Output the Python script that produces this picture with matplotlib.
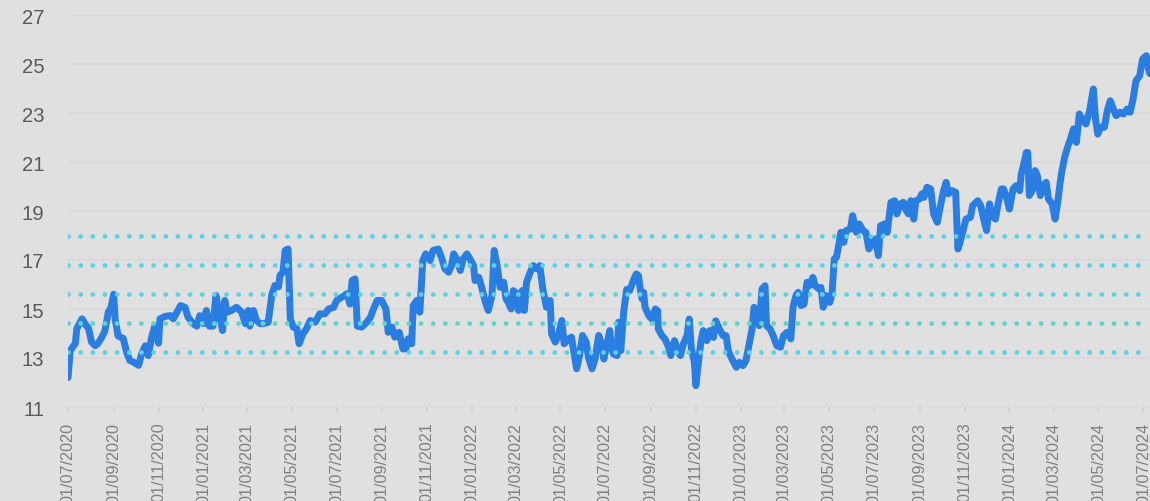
import pandas as pd
import matplotlib
matplotlib.use('Agg')
from matplotlib import pyplot as plt
import matplotlib.dates as mdates


start = pd.Timestamp('2020-07-01')

# days since 01/07/2020
days = [
    0, 3, 10, 12, 19, 23, 28, 32, 37, 41, 46, 50, 55, 58, 62, 64, 68, 75, 80, 84,
    89, 96, 100, 105, 109, 114, 118, 123, 125, 132, 139, 143, 148, 153, 159, 163,
    170, 175, 179, 184, 188, 192, 197, 201, 206, 210, 213, 216, 222, 229, 236, 241,
    245, 247, 252, 256, 261, 265, 272, 277, 281, 286, 288, 292, 295, 299, 302, 306,
    311, 314, 319, 324, 329, 336, 342, 349, 354, 361, 365, 372, 379, 383, 386, 390,
    393, 399, 406, 411, 415, 420, 426, 432, 435, 440, 444, 450, 455, 459, 462, 467,
    469, 474, 478, 482, 486, 492, 496, 503, 508, 512, 517, 521, 524, 528, 533, 537,
    542, 546, 551, 553, 558, 562, 567, 571, 576, 579, 583, 587, 592, 595, 598, 602,
    605, 610, 612, 617, 620, 623, 628, 632, 637, 641, 645, 650, 655, 657, 662, 666,
    671, 674, 680, 684, 688, 691, 695, 699, 704, 707, 712, 716, 721, 725, 728, 732,
    736, 738, 741, 746, 748, 751, 755, 759, 763, 768, 772, 775, 777, 780, 782, 784,
    789, 793, 798, 801, 802, 807, 811, 816, 819, 824, 828, 832, 836, 841, 844, 847,
    851, 853, 856, 860, 863, 868, 872, 877, 880, 885, 890, 894, 897, 902, 908, 912,
    917, 921, 925, 929, 932, 936, 939, 943, 947, 949, 954, 958, 963, 968, 972, 977,
    982, 985, 989, 992, 996, 1000, 1004, 1007, 1012, 1015, 1020, 1023, 1026, 1030,
    1035, 1038, 1041, 1044, 1047, 1050, 1054, 1057, 1063, 1066, 1071, 1075, 1080,
    1084, 1088, 1092, 1097, 1101, 1104, 1109, 1113, 1118, 1123, 1126, 1131, 1135,
    1139, 1142, 1145, 1149, 1152, 1157, 1160, 1163, 1167, 1172, 1176, 1181, 1184,
    1189, 1193, 1196, 1201, 1206, 1209, 1212, 1216, 1220, 1226, 1229, 1236, 1240,
    1244, 1248, 1252, 1255, 1260, 1264, 1268, 1271, 1275, 1279, 1284, 1288, 1293,
    1295, 1298, 1302, 1304, 1306, 1310, 1314, 1317, 1321, 1325, 1329, 1332, 1337,
    1341, 1344, 1348, 1350, 1354, 1358, 1362, 1366, 1370, 1374, 1379, 1383, 1388,
    1393, 1396, 1399, 1403, 1408, 1412, 1416, 1421, 1424, 1429, 1434, 1439, 1443,
    1447, 1451, 1456, 1460, 1465, 1468, 1470,
]
values = [
    12.2, 13.3, 13.6, 14.2, 14.6, 14.4, 14.2, 13.65, 13.5, 13.6, 13.85, 14.1, 14.9,
    15.0, 15.6, 14.6, 13.9, 13.8, 13.2, 12.9, 12.83, 12.7, 13.17, 13.5, 13.1, 13.9,
    14.3, 13.6, 14.6, 14.7, 14.73, 14.6, 14.87, 15.14, 15.07, 14.67, 14.4, 14.3,
    14.73, 14.4, 14.94, 14.3, 14.3, 15.55, 14.73, 14.12, 15.35, 14.87, 14.94, 15.07,
    14.87, 14.4, 14.94, 14.3, 14.94, 14.53, 14.4, 14.4, 14.46, 15.6, 15.96, 15.9,
    16.37, 16.5, 17.39, 17.45, 14.6, 14.26, 14.19, 13.58, 13.98, 14.19, 14.53, 14.46,
    14.8, 14.8, 15.0, 15.07, 15.35, 15.48, 15.62, 15.2, 16.16, 16.23, 14.3, 14.26,
    14.46, 14.67, 15.0, 15.35, 15.35, 15.0, 14.05, 14.26, 13.85, 14.05, 13.37, 13.37,
    13.78, 13.58, 15.14, 15.35, 14.87, 16.98, 17.25, 16.98, 17.39, 17.45, 17.05,
    16.64, 16.5, 16.77, 17.25, 17.05, 16.57, 17.05, 17.25, 17.05, 16.77, 16.16, 16.3,
    15.89, 15.28, 14.94, 15.55, 17.39, 16.77, 15.89, 16.09, 15.41, 15.28, 15.0, 15.75,
    15.62, 14.94, 15.75, 14.94, 16.09, 16.5, 16.77, 16.64, 16.77, 15.82, 15.07, 15.35,
    13.98, 13.65, 13.92, 14.53, 13.58, 13.78, 13.85, 13.1, 12.56, 13.1, 13.92, 13.65,
    13.03, 12.56, 12.96, 13.92, 13.58, 12.96, 13.51, 14.12, 13.57, 13.16, 13.1, 14.46,
    13.3, 14.9, 15.8, 15.75, 16.16, 16.43, 16.36, 15.88, 15.41, 15.68, 15.07, 14.73,
    14.59, 15.0, 14.93, 14.18, 13.91, 13.78, 13.44, 13.1, 13.71, 13.3, 13.1, 13.57,
    13.91, 14.59, 13.37, 12.82, 11.87, 12.69, 13.71, 14.12, 13.71, 14.12, 13.84,
    14.52, 14.18, 13.91, 13.91, 13.3, 12.96, 12.62, 12.82, 12.69, 12.89, 13.5, 14.12,
    15.07, 14.8, 14.32, 15.82, 15.95, 14.32, 14.18, 13.91, 13.5, 13.44, 13.91, 14.05,
    13.78, 15.07, 15.55, 15.68, 15.14, 15.2, 16.09, 15.95, 16.29, 15.95, 15.82, 15.88,
    15.07, 15.55, 15.27, 15.61, 17.04, 17.11, 17.59, 18.13, 17.72, 18.2, 18.27, 18.81,
    18.13, 18.47, 18.2, 18.13, 17.45, 17.66, 17.86, 17.18, 18.4, 18.47, 18.13, 19.35,
    19.42, 18.88, 19.29, 19.35, 19.01, 18.88, 19.42, 18.67, 19.42, 19.49, 19.7, 19.56,
    19.97, 19.9, 18.88, 18.54, 19.01, 19.76, 20.17, 19.7, 19.83, 19.76, 17.45, 17.72,
    18.2, 18.67, 18.74, 19.22, 19.42, 19.22, 18.67, 18.2, 19.29, 18.81, 18.67, 19.35,
    19.9, 19.9, 19.56, 19.08, 19.9, 20.03, 19.83, 20.51, 20.85, 21.39, 21.39, 19.63,
    19.83, 20.65, 20.44, 19.63, 20.03, 20.17, 19.49, 19.29, 18.67, 19.22, 20.17, 20.58,
    21.19, 21.6, 21.94, 22.35, 21.8, 22.96, 22.69, 22.55, 23.1, 23.98, 22.75, 22.14,
    22.42, 22.42, 23.1, 23.5, 23.1, 22.89, 23.03, 22.96, 23.16, 23.03, 23.57, 24.32,
    24.52, 25.2, 25.34, 24.8, 24.6,
]

# dotted reference levels
levels = [13.23, 14.42, 15.60, 16.78, 17.96]
level_colors = ['#5dd2e2', '#5fd4cc', '#5dd2e2', '#5dd2e2', '#5dd2e2']

dates = start + pd.to_timedelta(days, unit='D')
tick_dates = pd.date_range('2020-07-01', '2024-07-01', freq='2MS')

fig = plt.figure(figsize=(11.5, 5.02), dpi=100, facecolor='#e0e0e0')
ax = fig.add_axes([68 / 1150, 1 - 408 / 502, 1 - 68 / 1150, (408 - 16) / 502])
ax.set_facecolor('#e0e0e0')

ax.plot(dates, values, color='#2a7de1', lw=5.0, solid_joinstyle='round',
        solid_capstyle='round', zorder=3)

for lvl, c in zip(levels, level_colors):
    ax.axhline(lvl, color=c, lw=3.5, linestyle=(0, (0.001, 2.5)),
               dash_capstyle='round', zorder=4)

ax.set_ylim(11, 27)
ax.set_yticks(range(11, 28, 2))
ax.set_xlim(start, start + pd.Timedelta(days=1470))
ax.set_xticks(tick_dates)
ax.xaxis.set_major_formatter(mdates.DateFormatter('%d/%m/%Y'))

ax.grid(axis='y', color='#d8d8d8', lw=1.2, zorder=0)
for s in ax.spines.values():
    s.set_visible(False)

ax.tick_params(axis='y', length=0, pad=17, labelsize=14.6, labelcolor='#595959')
ax.tick_params(axis='x', length=3.6, width=1.2, color='#d0d0d0', pad=7,
               labelsize=11.6, labelcolor='#7f7f7f', labelrotation=90)
for lab in ax.get_xticklabels() + ax.get_yticklabels():
    lab.set_fontfamily('Liberation Sans')
for lab in ax.get_xticklabels():
    lab.set_verticalalignment('top')

fig.savefig('out.png', dpi=100, facecolor=fig.get_facecolor())
